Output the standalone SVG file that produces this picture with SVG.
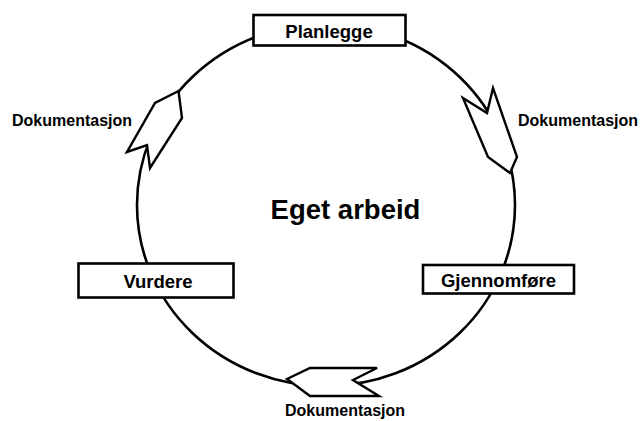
<svg xmlns="http://www.w3.org/2000/svg" width="643" height="421" viewBox="0 0 643 421">
  <style>
    .ring { fill: none; stroke: #000; stroke-width: 2.6; }
    .box { fill: #fff; stroke: #000; stroke-width: 2.6; }
    .arrow { fill: #fff; stroke: #000; stroke-width: 2.4; stroke-linejoin: miter; }
    .lbl { font-family: "Liberation Sans", Arial, sans-serif; font-weight: bold; fill: #000; }
    .node { font-size: 18.5px; text-anchor: middle; }
    .doc { font-size: 16px; }
    .title { font-size: 27.5px; text-anchor: middle; }
  </style>

  <!-- cycle ring and the flow arrows sitting on it -->
  <g id="connectors">
    <ellipse class="ring" cx="326" cy="205" rx="189" ry="181"/>
    <polygon class="arrow" points="178.5,91 182,118 150,168 147,145 127,152 155,103"/>
    <polygon class="arrow" points="463,98 487,113 493,88 517,157 510,173 488,157"/>
    <polygon class="arrow" points="287,379 310,368 377,368 353,380 379,396 310,396"/>
  </g>

  <g id="label-doc-left"><text class="lbl doc" x="12" y="126">Dokumentasjon</text></g>
  <g id="label-doc-right"><text class="lbl doc" x="518" y="126">Dokumentasjon</text></g>
  <g id="label-doc-bottom"><text class="lbl doc" x="285" y="416">Dokumentasjon</text></g>

  <g id="center-title"><text class="lbl title" x="345.5" y="219">Eget arbeid</text></g>

  <g id="node-planlegge">
    <rect class="box" x="253.5" y="15" width="152" height="30.5"/>
    <text class="lbl node" x="329" y="37.5">Planlegge</text>
  </g>
  <g id="node-gjennomfore">
    <rect class="box" x="423" y="265" width="151" height="28.5"/>
    <text class="lbl node" x="498.5" y="286.5">Gjennomføre</text>
  </g>
  <g id="node-vurdere">
    <rect class="box" x="78.5" y="263.5" width="155" height="34"/>
    <text class="lbl node" x="158" y="287.5" font-size="20">Vurdere</text>
  </g>
</svg>
